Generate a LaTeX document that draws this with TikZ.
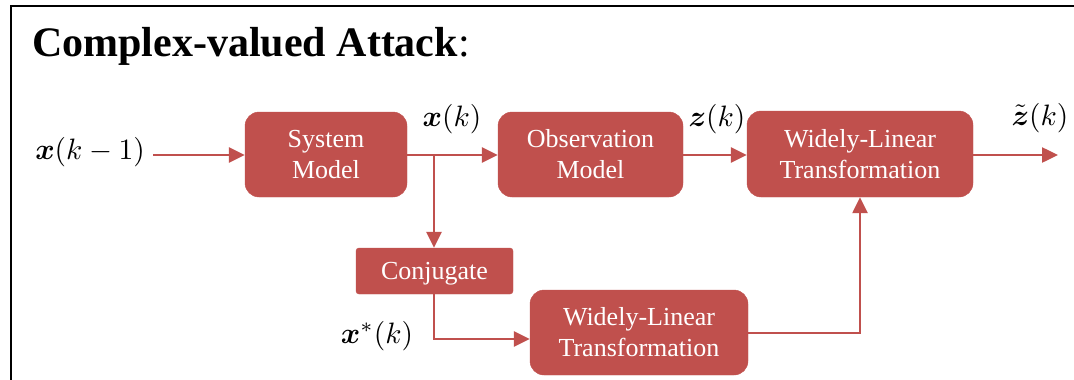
\documentclass[tikz,border=0pt]{standalone}
\usepackage{amsmath}
\usepackage{graphicx}
\usepackage{fontspec}
\setmainfont{Liberation Serif}
\usetikzlibrary{arrows.meta,positioning}
\definecolor{boxred}{HTML}{C0504D}
\newcommand{\sigtext}[1]{\scalebox{2.95}{$#1$}}
\tikzset{
  block/.style={fill=boxred, draw=boxred, rounded corners=14pt, text=white,
    align=center, inner sep=0pt, font=\fontsize{26}{31}\selectfont},
  flatblock/.style={block, rounded corners=3pt},
  link/.style={draw=boxred, line width=2.5pt,
    -{Triangle[length=16pt,width=15pt]}},
  sig/.style={inner sep=0pt},
}
\begin{document}
\begin{tikzpicture}[x=1pt, y=-1pt]
\useasboundingbox (0,0) rectangle (1074,380);
% open frame
\draw[line width=2.5pt] (11.2,380) -- (11.2,6.2) -- (1074,6.2);
% title
\node[anchor=base west, inner sep=0pt, font=\fontsize{42}{50}\selectfont] (title)
  at (32,56) {\textbf{Complex-valued Attack}:};
% blocks
\node[block, minimum width=162pt, minimum height=85pt] (sys) at (326,154.5) {System\\Model};
\node[block, minimum width=185pt, minimum height=85pt] (obs) at (590.5,154.5) {Observation\\Model};
\node[block, minimum width=226pt, minimum height=86pt] (wlt) at (860,154) {Widely-Linear\\Transformation};
\node[flatblock, minimum width=157pt, minimum height=46pt, text depth=0pt] (conj) at (434.5,271) {Conjugate};
\node[block, minimum width=218pt, minimum height=85pt] (wlb) at (639,332.5) {Widely-Linear\\Transformation};
% signal labels
\node[sig] (xin) at (90,152) {\sigtext{\boldsymbol{x}(k-1)}};
\node[sig] (xk) at (452,119) {\sigtext{\boldsymbol{x}(k)}};
\node[sig] (zk) at (717,119) {\sigtext{\boldsymbol{z}(k)}};
\node[sig] (zt) at (1040,118) {\sigtext{\tilde{\boldsymbol{z}}(k)}};
\node[sig] (xc) at (377,336) {\sigtext{\boldsymbol{x}^{*}(k)}};
% auxiliary points
\coordinate (instart) at (153,155);
\coordinate (split) at (434,155);
\coordinate (outend) at (1058,155);
\coordinate (cbend) at (434,339);
\coordinate (rbend) at (860,333);
% connectors
\draw[link] (instart) -- (sys.west |- instart);
\draw[link] (sys.east |- split) -- (obs.west |- split);
\draw[link] (split) -- (conj.north -| split);
\draw[link] (obs.east |- split) -- (wlt.west |- split);
\draw[link] (wlt.east |- outend) -- (outend);
\draw[link] (conj.south -| cbend) -- (cbend) -- (wlb.west |- cbend);
\draw[link] (wlb.east |- rbend) -- (rbend) -- (wlt.south -| rbend);
\end{tikzpicture}
\end{document}
